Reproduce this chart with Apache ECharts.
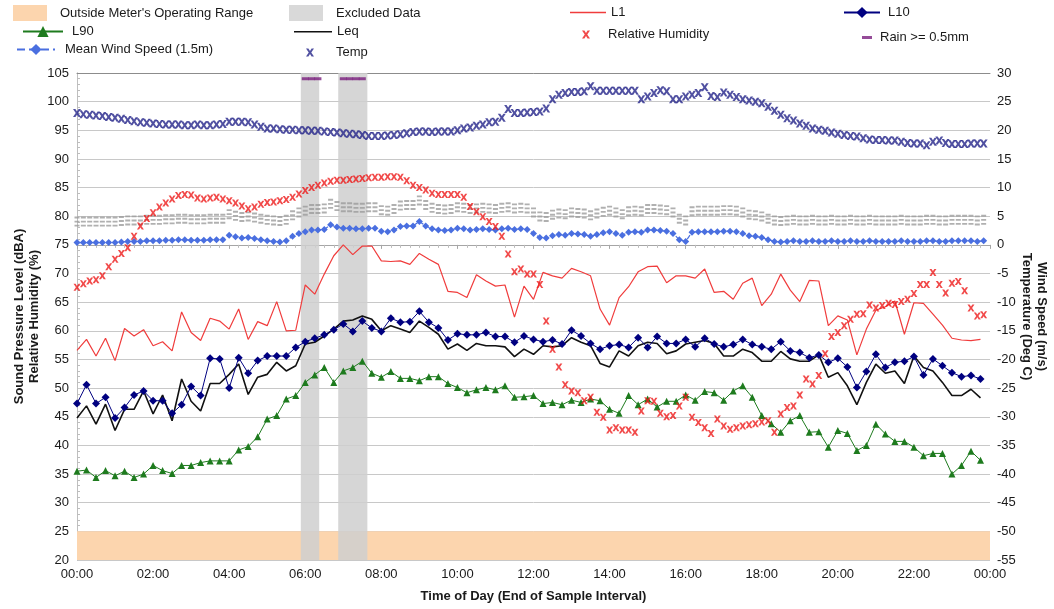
<!DOCTYPE html>
<html>
<head>
<meta charset="utf-8">
<title>Noise and weather monitoring</title>
<script src="https://cdn.jsdelivr.net/npm/echarts@6/dist/echarts.min.js"></script>
<style>
  html, body { margin: 0; padding: 0; background: #fff; }
  #main { width: 1054px; height: 609px; }
</style>
</head>
<body>
<div id="main"></div>
<script>
// noise levels, one value per 15 minutes from 00:00 (dBA)
var L1 = [56.6, 58.5, 55.6, 58.7, 54.8, 60.4, 59.1, 60.2, 57.4, 58.1,
  56.5, 63.3, 59.7, 58.3, 62.2, 61.7, 60.3, 63.8, 58.5, 61.6,
  60.9, 65.1, 60.0, 60.1, 68.0, 66.4, 69.9, 73.1, 75.0, 73.3,
  74.8, 74.8, 72.2, 72.1, 72.2, 71.6, 73.5, 72.5, 71.6, 66.9,
  66.7, 65.8, 69.8, 68.7, 67.8, 68.0, 62.4, 67.8, 65.5, 70.2,
  69.6, 69.2, 70.9, 70.3, 69.6, 63.8, 61.0, 65.8, 67.7, 70.3,
  71.2, 71.3, 68.4, 69.6, 69.6, 69.2, 70.8, 66.7, 66.9, 65.5,
  68.3, 69.2, 64.4, 66.4, 69.9, 67.1, 65.1, 68.8, 68.7, 60.9,
  62.6, 61.9, 55.8, 60.3, 63.6, 64.2, 65.2, 59.4, 64.9, 64.8,
  62.9, 61.0, 58.7, 58.4, 58.3, 58.5];
var L10 = [47.3, 50.6, 47.3, 48.4, 44.8, 46.6, 48.8, 49.5, 47.8, 47.8,
  45.6, 47.1, 50.3, 48.7, 55.2, 55.1, 50.0, 55.3, 52.6, 54.8,
  55.6, 55.6, 55.6, 57.1, 58.1, 58.7, 59.3, 60.2, 61.2, 59.9,
  61.7, 60.5, 59.9, 62.2, 61.5, 61.6, 63.4, 61.5, 60.5, 58.4,
  59.5, 59.3, 59.3, 59.7, 59.0, 59.0, 58.0, 59.1, 58.5, 58.1,
  58.4, 57.7, 60.1, 59.1, 57.8, 56.8, 57.4, 57.6, 57.1, 58.8,
  57.1, 59.0, 57.8, 57.8, 58.5, 57.2, 58.7, 57.7, 57.2, 57.6,
  58.5, 57.6, 57.2, 56.8, 58.1, 56.5, 56.2, 55.3, 55.8, 54.5,
  55.2, 53.7, 50.1, 52.9, 55.9, 53.6, 54.5, 54.7, 55.5, 52.3,
  55.1, 53.9, 52.7, 52.0, 52.2, 51.6];
var L90 = [35.5, 35.7, 34.4, 35.6, 34.7, 35.5, 34.4, 35.0, 36.5, 35.6,
  35.1, 36.5, 36.5, 37.0, 37.3, 37.3, 37.3, 39.2, 39.8, 41.5,
  44.6, 45.2, 48.1, 48.7, 51.0, 52.3, 53.6, 51.0, 53.0, 53.6,
  54.7, 52.6, 51.9, 52.9, 51.7, 51.7, 51.3, 52.0, 52.0, 50.8,
  50.1, 49.2, 49.7, 50.1, 49.7, 50.4, 48.4, 48.5, 48.7, 47.3,
  47.5, 47.1, 47.9, 47.5, 48.1, 47.8, 46.3, 45.6, 48.7, 47.1,
  48.1, 46.7, 47.7, 47.7, 48.8, 47.9, 49.4, 49.2, 47.9, 49.5,
  50.4, 48.4, 45.2, 43.8, 42.3, 44.3, 45.2, 42.3, 42.4, 39.7,
  42.6, 42.1, 39.1, 40.0, 43.7, 42.0, 40.7, 40.7, 39.7, 38.2,
  38.6, 38.6, 35.0, 36.5, 39.0, 37.4];
var Leq = [44.8, 46.9, 43.7, 47.2, 42.6, 46.3, 46.3, 49.5, 45.5, 48.8,
  44.3, 51.6, 47.7, 46.0, 50.8, 50.8, 52.4, 54.2, 48.9, 51.9,
  52.4, 54.5, 53.0, 53.9, 57.7, 58.0, 59.1, 60.3, 61.7, 61.9,
  62.6, 62.0, 60.0, 60.9, 60.3, 59.7, 61.7, 60.6, 59.4, 56.8,
  57.7, 56.6, 57.8, 57.4, 57.4, 57.2, 55.5, 56.8, 55.9, 57.4,
  57.2, 57.4, 58.8, 58.0, 57.4, 54.3, 53.7, 56.5, 55.6, 57.4,
  58.0, 57.8, 56.0, 56.5, 57.7, 58.0, 58.3, 57.8, 55.6, 55.6,
  56.8, 56.2, 54.7, 54.7, 56.4, 55.1, 54.7, 54.7, 55.8, 51.9,
  52.7, 50.4, 47.1, 51.0, 54.2, 52.6, 53.0, 50.8, 55.6, 53.6,
  53.0, 51.0, 48.7, 48.7, 49.8, 48.3];

// weather, one value per 10 minutes from 00:00
var humidity = [67.6, 68.2, 68.7, 68.9, 69.6, 71.2, 72.5, 73.5, 74.5, 76.5,
  78.3, 79.6, 80.6, 81.6, 82.3, 83.0, 83.6, 83.8, 83.7, 83.2,
  83.0, 83.2, 83.3, 83.0, 82.7, 82.3, 81.8, 81.3, 81.6, 82.1,
  82.4, 82.5, 82.7, 82.9, 83.3, 83.9, 84.5, 85.0, 85.4, 85.8,
  86.1, 86.3, 86.3, 86.4, 86.5, 86.6, 86.7, 86.8, 86.8, 86.9,
  86.9, 86.8, 86.2, 85.4, 85.0, 84.6, 84.0, 83.8, 83.8, 83.8,
  83.8, 83.3, 81.7, 80.8, 79.9, 79.1, 78.2, 76.5, 73.4, 70.3,
  70.8, 69.9, 69.9, 68.1, 61.7, 56.8, 53.7, 50.6, 49.5, 49.2,
  47.8, 48.4, 45.8, 44.9, 42.7, 43.1, 42.7, 42.7, 42.3, 46.0,
  47.8, 47.7, 45.6, 45.0, 45.2, 46.9, 48.4, 44.9, 44.0, 43.1,
  42.1, 44.6, 43.4, 42.8, 43.1, 43.4, 43.6, 43.8, 44.1, 44.3,
  42.3, 45.5, 46.6, 46.9, 48.8, 51.6, 50.7, 52.2, 56.0, 59.0,
  59.7, 60.9, 62.0, 62.9, 63.0, 64.5, 64.0, 64.4, 64.8, 64.6,
  65.1, 65.5, 66.5, 68.1, 68.1, 70.2, 68.1, 66.6, 68.3, 68.6,
  67.0, 64.0, 62.6, 62.8];
var temp = [23.0, 22.8, 22.7, 22.6, 22.5, 22.3, 22.2, 22.0, 21.8, 21.6,
  21.4, 21.3, 21.2, 21.1, 21.0, 21.0, 21.0, 20.9, 20.9, 21.0,
  20.9, 20.9, 21.0, 21.1, 21.5, 21.5, 21.5, 21.4, 21.0, 20.6,
  20.3, 20.3, 20.2, 20.1, 20.1, 20.0, 20.0, 19.9, 19.9, 19.8,
  19.7, 19.6, 19.5, 19.4, 19.3, 19.2, 19.0, 19.0, 19.0, 19.1,
  19.2, 19.3, 19.5, 19.7, 19.8, 19.8, 19.7, 19.8, 19.8, 19.8,
  20.0, 20.3, 20.5, 20.8, 21.0, 21.4, 21.5, 22.2, 23.7, 23.0,
  23.0, 23.1, 23.2, 23.3, 23.8, 25.4, 26.2, 26.5, 26.7, 26.7,
  26.8, 27.7, 26.9, 26.9, 26.9, 26.9, 26.9, 26.9, 26.9, 25.4,
  25.9, 26.5, 27.0, 26.8, 25.4, 25.4, 25.9, 26.2, 26.5, 27.5,
  26.0, 25.8, 26.6, 26.2, 25.8, 25.4, 25.2, 25.0, 24.7, 24.1,
  23.4, 22.7, 22.1, 21.7, 21.2, 20.8, 20.3, 20.1, 19.9, 19.6,
  19.4, 19.2, 19.0, 18.9, 18.6, 18.4, 18.3, 18.3, 18.2, 18.2,
  18.0, 17.8, 17.7, 17.7, 17.4, 18.0, 18.2, 17.8, 17.6, 17.6,
  17.6, 17.7, 17.7, 17.7];
var windSpeed = [0.4, 0.4, 0.4, 0.4, 0.4, 0.4, 0.4, 0.5, 0.6, 0.6,
  0.6, 0.7, 0.7, 0.7, 0.8, 0.8, 0.9, 0.9, 0.8, 0.8,
  0.8, 0.9, 0.9, 0.9, 1.7, 1.4, 1.2, 1.3, 1.1, 0.9,
  0.7, 0.6, 0.5, 0.7, 1.5, 2.0, 2.3, 2.6, 2.6, 2.7,
  3.5, 3.1, 2.9, 2.9, 2.8, 2.8, 2.9, 2.9, 2.4, 2.3,
  2.6, 3.2, 3.3, 3.3, 4.1, 3.3, 2.8, 2.6, 2.5, 2.6,
  2.9, 2.8, 2.6, 2.7, 2.8, 2.7, 2.6, 2.8, 2.9, 2.7,
  2.8, 2.7, 2.0, 1.3, 1.2, 1.6, 1.8, 1.7, 2.0, 1.9,
  1.8, 1.5, 1.8, 2.1, 2.3, 2.0, 1.7, 2.2, 2.3, 2.2,
  2.6, 2.6, 2.5, 2.4, 2.0, 0.9, 0.6, 2.2, 2.3, 2.3,
  2.3, 2.3, 2.4, 2.4, 2.3, 2.0, 1.6, 1.5, 1.3, 0.9,
  0.6, 0.5, 0.6, 0.7, 0.6, 0.6, 0.7, 0.6, 0.6, 0.7,
  0.6, 0.6, 0.7, 0.6, 0.6, 0.7, 0.6, 0.6, 0.6, 0.6,
  0.7, 0.6, 0.6, 0.6, 0.7, 0.7, 0.6, 0.6, 0.7, 0.7,
  0.7, 0.7, 0.6, 0.7];

var rainTimes = ['06:00', '06:10', '06:20', '07:00', '07:10', '07:20', '07:30'];
var excludedPeriods = [['05:53', '06:22'], ['06:52', '07:38']];
var meterRange = [20, 25];   // dBA band outside the meter's range
var xTickLabels = ['00:00', '02:00', '04:00', '06:00', '08:00', '10:00', '12:00',
  '14:00', '16:00', '18:00', '20:00', '22:00', '00:00'];

function hours(t) {
  var p = t.split(':');
  return +p[0] + p[1] / 60;
}
function pairs(arr, stepMin) {
  return arr.map(function (v, i) { return [i * stepMin / 60, v]; });
}

var FONT = 'Liberation Sans, Arial, sans-serif';
var xMark = 'path://M0,0H3L5,3L7,0H10L6.6,5L10,10H7L5,7L3,10H0L3.4,5Z';
var dirMark = 'path://M0,0H5V1.6H0ZM0,3.4H5V5H0ZM0,6.8H5V8.4H0Z';
// plain line legend icon (tiny corner specks keep the box 40x14)
var lineIcon = 'path://M0,0H0.01V0.01H0ZM0,6.2H40V7.8H0ZM39.99,13.99H40V14H39.99Z';

var myChart = echarts.init(document.getElementById('main'));

function leg(name, left, top, w, h, pad, extra) {
  var item = { name: name };
  if (extra) { for (var k in extra) item[k] = extra[k]; }
  return {
    data: [item], left: left, top: top, itemWidth: w, itemHeight: h,
    selectedMode: false, padding: 0,
    textStyle: { fontFamily: FONT, fontSize: 13, color: '#1a1a1a', padding: [0, 0, 0, pad] }
  };
}

myChart.setOption({
  animation: false,
  textStyle: { fontFamily: FONT },
  legend: [
    leg("Outside Meter's Operating Range", 13, 5, 34, 16, 8, { icon: 'rect', itemStyle: { color: '#fcd5ae' } }),
    leg('Excluded Data', 289, 5, 34, 16, 8, { icon: 'rect', itemStyle: { color: '#d9d9d9' } }),
    leg('L1', 570, 6, 36, 14, 0, { icon: lineIcon }),
    leg('L10', 843, 6, 36, 14, 3),
    leg('L90', 22, 25, 40, 14, 4),
    leg('Leq', 294, 25, 38, 14, 0, { icon: lineIcon }),
    leg('Relative Humidity', 582, 28, 8, 8, 13),
    leg('Rain >= 0.5mm', 862, 31, 10, 3, 3),
    leg('Mean Wind Speed (1.5m)', 16, 43, 38, 14, 5),
    leg('Temp', 306, 46, 8, 8, 17)
  ],
  grid: { left: 77, right: 64, top: 73, bottom: 49, outerBoundsMode: 'none' },
  xAxis: [{
    type: 'value', min: 0, max: 24, interval: 2,
    name: 'Time of Day (End of Sample Interval)', nameLocation: 'middle', nameGap: 30,
    nameTextStyle: { fontWeight: 'bold', fontSize: 13, color: '#1a1a1a' },
    axisLine: { lineStyle: { color: '#a6a6a6' } },
    axisTick: { length: 4, lineStyle: { color: '#a6a6a6' } },
    minorTick: { show: true, splitNumber: 8, length: 3, lineStyle: { color: '#bdbdbd' } },
    splitLine: { show: false },
    axisLabel: {
      fontSize: 13, color: '#1a1a1a', margin: 8,
      formatter: function (v) { return xTickLabels[Math.round(v / 2)]; }
    }
  }, {
    type: 'value', min: 0, max: 24, position: 'top',
    axisLine: { show: true, lineStyle: { color: '#8c8c8c' } },
    axisTick: { show: false }, axisLabel: { show: false }, splitLine: { show: false }
  }],
  yAxis: [{
    type: 'value', min: 20, max: 105, interval: 5,
    name: 'Sound Pressure Level (dBA)\nRelative Humidity (%)',
    nameLocation: 'middle', nameGap: 35, nameRotate: 90, nameMoveOverlap: false,
    nameTextStyle: { fontWeight: 'bold', fontSize: 13, color: '#1a1a1a', lineHeight: 15 },
    axisLine: { show: true, lineStyle: { color: '#bfbfbf' } },
    axisTick: { show: false },
    splitLine: { lineStyle: { color: '#c8c8c8', width: 1 } },
    axisLabel: { fontSize: 13, color: '#1a1a1a', margin: 8 }
  }, {
    type: 'value', min: -55, max: 30, interval: 5,
    name: 'Wind Speed (m/s)\nTemperature (Deg C)',
    nameLocation: 'middle', nameGap: 29, nameRotate: -90, nameMoveOverlap: false,
    nameTextStyle: { fontWeight: 'bold', fontSize: 13, color: '#1a1a1a', lineHeight: 15 },
    axisLine: { show: true, lineStyle: { color: '#bfbfbf' } },
    axisTick: { show: false },
    minorTick: { show: true, splitNumber: 5, length: 3, lineStyle: { color: '#bdbdbd' } },
    splitLine: { show: false },
    axisLabel: { fontSize: 13, color: '#1a1a1a', margin: 7 }
  }],
  series: [{
    name: "Outside Meter's Operating Range", type: 'line', data: [], z: 1,
    itemStyle: { color: '#fcd5ae' },
    markArea: {
      silent: true, itemStyle: { color: '#fcd5ae' },
      data: [[{ yAxis: meterRange[0] }, { yAxis: meterRange[1] }]]
    }
  }, {
    name: 'Excluded Data', type: 'line', data: [], z: 2,
    itemStyle: { color: '#d9d9d9' },
    markArea: {
      silent: true, itemStyle: { color: '#cfcfcf', opacity: 0.85 },
      data: excludedPeriods.map(function (p) {
        return [{ xAxis: hours(p[0]) }, { xAxis: hours(p[1]) }];
      })
    }
  }, {
    name: 'Wind Direction', type: 'scatter', yAxisIndex: 1, z: 3,
    data: pairs(windSpeed, 10),
    symbol: dirMark, symbolSize: [5, 10], symbolOffset: [0, -21],
    itemStyle: { color: '#9c9c9c' }
  }, {
    name: 'Mean Wind Speed (1.5m)', type: 'line', yAxisIndex: 1, z: 4,
    data: pairs(windSpeed, 10),
    symbol: 'diamond', symbolSize: 7, color: '#4a6fe0',
    lineStyle: { width: 1.2, type: 'dashed' }
  }, {
    name: 'Temp', type: 'scatter', yAxisIndex: 1, z: 4,
    data: pairs(temp, 10),
    symbol: xMark, symbolSize: 8, itemStyle: { color: '#24248a' }
  }, {
    name: 'L1', type: 'line', z: 5,
    data: pairs(L1, 15),
    symbol: 'none', color: '#f03c3c', lineStyle: { width: 1.2 }
  }, {
    name: 'Leq', type: 'line', z: 5,
    data: pairs(Leq, 15),
    symbol: 'none', color: '#111111', lineStyle: { width: 1.6 }
  }, {
    name: 'L10', type: 'line', z: 6,
    data: pairs(L10, 15),
    symbol: 'diamond', symbolSize: 8, color: '#000080', lineStyle: { width: 1 }
  }, {
    name: 'L90', type: 'line', z: 6,
    data: pairs(L90, 15),
    symbol: 'triangle', symbolSize: 7, color: '#1e7b1e', lineStyle: { width: 1 }
  }, {
    name: 'Relative Humidity', type: 'scatter', z: 7,
    data: pairs(humidity, 10),
    symbol: xMark, symbolSize: 7, itemStyle: { color: '#ee1c1c' }
  }, {
    name: 'Rain >= 0.5mm', type: 'scatter', z: 7,
    data: rainTimes.map(function (t) { return [hours(t), 104]; }),
    symbol: 'rect', symbolSize: [7, 3], itemStyle: { color: '#7a1f7e' }
  }]
});
</script>
</body>
</html>
